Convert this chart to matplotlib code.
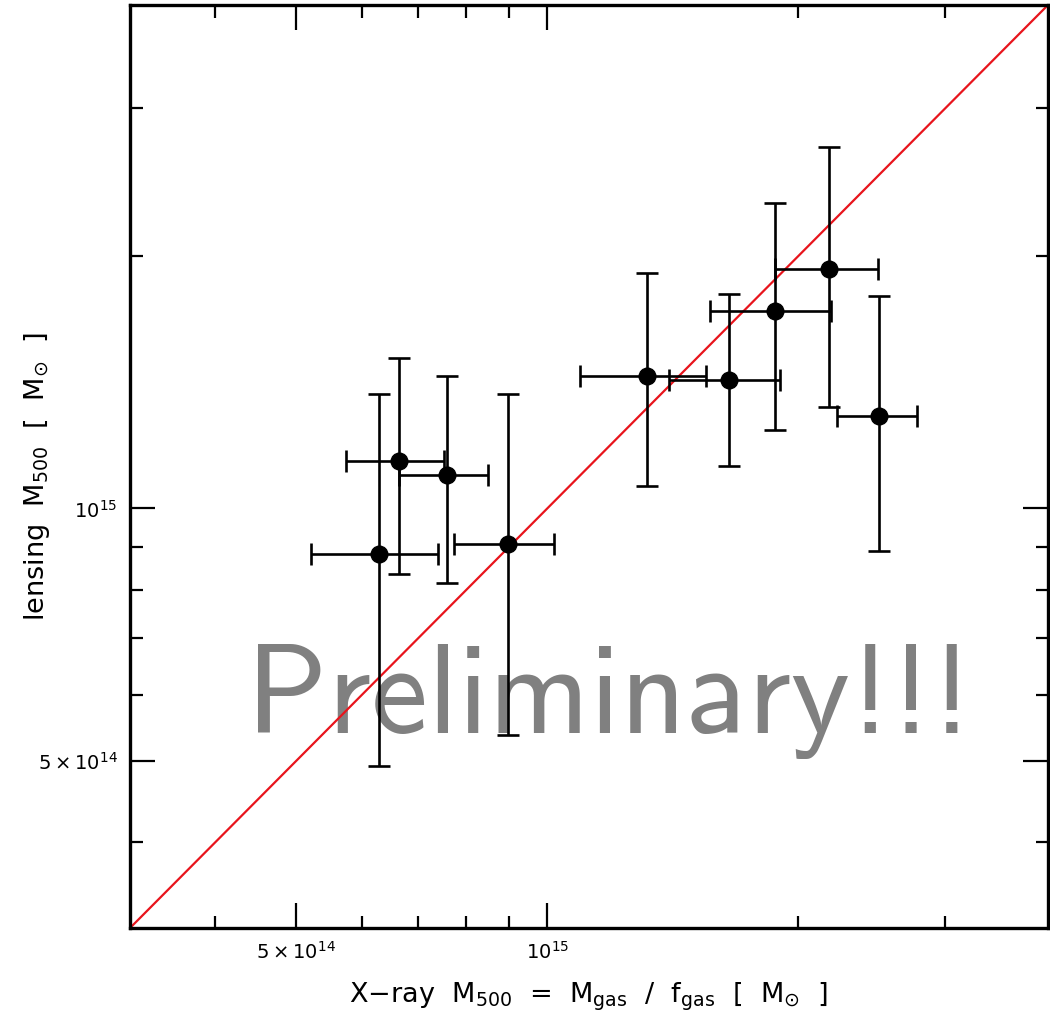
"""lensing vs X-ray M500 comparison (preliminary)"""
import numpy as np
import matplotlib
matplotlib.use('Agg')
from matplotlib import pyplot as plt
from matplotlib.ticker import FixedLocator, NullFormatter

plt.rcParams['mathtext.fontset'] = 'dejavusans'

# X-ray masses and error range (Msun)
mx = [6.29e14, 6.65e14, 7.59e14, 8.98e14, 1.318e15, 1.653e15, 1.872e15, 2.173e15, 2.50e15]
mx_lo = [5.21e14, 5.74e14, 6.65e14, 7.74e14, 1.093e15, 1.401e15, 1.568e15, 1.877e15, 2.222e15]
mx_hi = [7.40e14, 7.52e14, 8.50e14, 1.02e15, 1.551e15, 1.903e15, 2.185e15, 2.488e15, 2.77e15]

# lensing masses and error range (Msun)
ml = [8.83e14, 1.139e15, 1.095e15, 9.08e14, 1.439e15, 1.424e15, 1.718e15, 1.93e15, 1.289e15]
ml_lo = [4.93e14, 8.36e14, 8.15e14, 5.37e14, 1.063e15, 1.123e15, 1.24e15, 1.322e15, 8.91e14]
ml_hi = [1.37e15, 1.513e15, 1.44e15, 1.37e15, 1.908e15, 1.80e15, 2.31e15, 2.696e15, 1.79e15]

lims = [10**14.5, 10**15.6]
major = [5e14, 1e15]
minor = [4e14, 6e14, 7e14, 8e14, 9e14, 2e15, 3e15]
major_labels = [r'$5\times10^{14}$', r'$10^{15}$']

mx = np.array(mx)
ml = np.array(ml)
xerr = [mx - np.array(mx_lo), np.array(mx_hi) - mx]
yerr = [ml - np.array(ml_lo), np.array(ml_hi) - ml]

fig = plt.figure(figsize=(10.5, 10.15), dpi=100)
ax = fig.add_axes([0.1238, 0.0857, 0.8743, 0.9094])
ax.set_xscale('log')
ax.set_yscale('log')
ax.set_xlim(lims)
ax.set_ylim(lims)

ax.text(0.522, 0.211, 'Preliminary!!!', transform=ax.transAxes, ha='center',
        va='baseline', fontsize=92, color='#808080', family='cmss10', zorder=1)

ax.plot(lims, lims, color='#e8141c', lw=1.6, zorder=2)
ax.errorbar(mx, ml, xerr=xerr, yerr=yerr, fmt='o', color='black', ms=12,
            elinewidth=1.9, capsize=8, capthick=1.9, zorder=3)

for axis in (ax.xaxis, ax.yaxis):
    axis.set_major_locator(FixedLocator(major))
    axis.set_minor_locator(FixedLocator(minor))
    axis.set_minor_formatter(NullFormatter())
ax.set_xticklabels(major_labels)
ax.set_yticklabels(major_labels)
ax.tick_params(which='both', direction='in', top=True, right=True, width=1.6,
               labelsize=14, pad=9)
ax.tick_params(which='major', length=18)
ax.tick_params(which='minor', length=9)
for s in ax.spines.values():
    s.set_linewidth(2.4)

ax.set_xlabel(r'X$-$ray  M$_{500}$  =  M$_{\rm gas}$  /  f$_{\rm gas}$  [  M$_{\odot}$  ]',
              fontsize=19.5)
ax.xaxis.set_label_coords(0.5, -0.057)
ax.set_ylabel(r'lensing  M$_{500}$  [  M$_{\odot}$  ]', fontsize=19.5)
ax.yaxis.set_label_coords(-0.085, 0.489)

fig.savefig('out.png', dpi=100)
